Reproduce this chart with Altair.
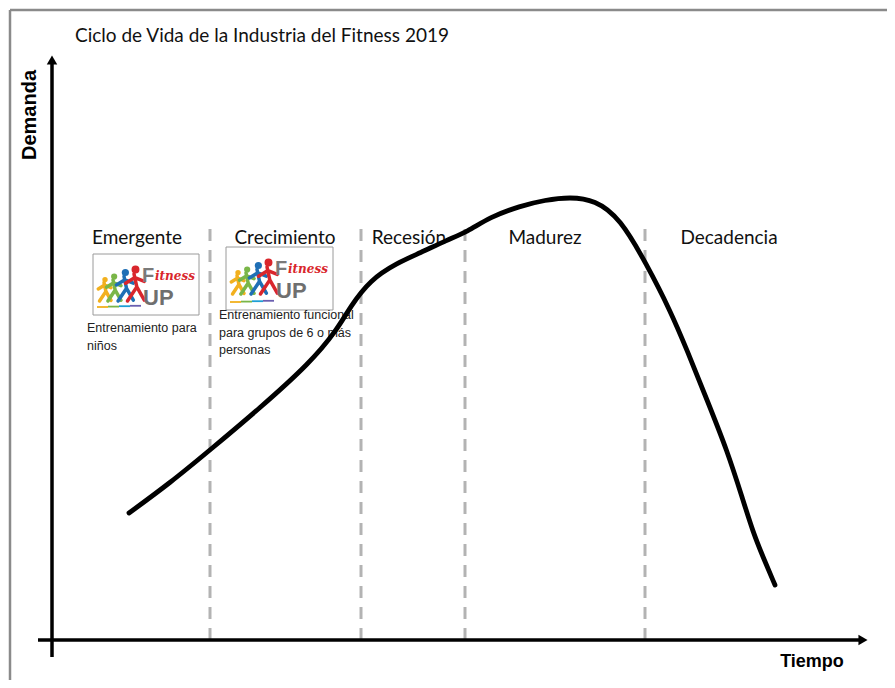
import altair as alt
import pandas as pd

# ---- data (time = horizontal units, demand = vertical units) ----
curve_t = [77, 118, 158, 208, 258, 285, 298, 318, 345, 368, 395, 415, 438, 468, 493, 518, 543,
           568, 595, 618, 635, 655, 675, 691, 701, 711, 723]
curve_d = [127, 157, 190, 232, 277, 310, 333, 360, 377, 387, 400, 408, 423, 434, 440, 443, 440,
           422, 375, 330, 290, 240, 190, 140, 108, 83, 55]

stages = ["Emergente", "Crecimiento", "Recesión", "Madurez", "Decadencia"]
stage_t = [85, 233, 357, 493, 677]
stage_d = [402, 402, 402, 402, 402]

divider_t = [158, 309, 413, 593]
divider_top = 412

title_text = "Ciclo de Vida de la Industria del Fitness 2019"
x_title = "Tiempo"
y_title = "Demanda"

captions = ["Entrenamiento para", "niños",
            "Entrenamiento funcional", "para grupos de 6 o más", "personas"]
caption_t = [35, 35, 167, 167, 167]
caption_d = [312, 294, 325, 307, 290]

logo_t1 = [41, 174]
logo_t2 = [147, 281]
logo_d1 = [386, 393]
logo_d2 = [325, 330]

XS = alt.Scale(domain=[-44, 835], nice=False, zero=False)
YS = alt.Scale(domain=[-40, 632], nice=False, zero=False)


def X(f="t"):
    return alt.X(f"{f}:Q", scale=XS, axis=None)


def Y(f="d"):
    return alt.Y(f"{f}:Q", scale=YS, axis=None)


layers = []

# frame (top and left)
frame = pd.DataFrame({"t": [-42], "t2": [835], "d": [630]})
layers.append(alt.Chart(frame).mark_rule(color="#8a8a8a", strokeWidth=2.5).encode(
    x=X(), x2="t2:Q", y=Y()))
frame2 = pd.DataFrame({"t": [-42], "d": [630], "d2": [-40]})
layers.append(alt.Chart(frame2).mark_rule(color="#8a8a8a", strokeWidth=2.5).encode(
    x=X(), y=Y(), y2="d2:Q"))

# dashed dividers
div = pd.DataFrame({"t": divider_t, "d": [0] * len(divider_t), "d2": [divider_top] * len(divider_t)})
layers.append(alt.Chart(div).mark_rule(color="#b3b3b3", strokeWidth=3, strokeDash=[12, 9]).encode(
    x=X(), y=Y(), y2="d2:Q"))

# axes
xa = pd.DataFrame({"t": [-14], "t2": [812], "d": [0]})
layers.append(alt.Chart(xa).mark_rule(color="black", strokeWidth=3.5).encode(x=X(), x2="t2:Q", y=Y()))
ya = pd.DataFrame({"t": [0], "d": [-17], "d2": [578]})
layers.append(alt.Chart(ya).mark_rule(color="black", strokeWidth=3.5).encode(x=X(), y=Y(), y2="d2:Q"))
layers.append(alt.Chart(pd.DataFrame({"t": [811], "d": [0]})).mark_point(
    shape="triangle-right", filled=True, color="black", size=110, opacity=1).encode(x=X(), y=Y()))
layers.append(alt.Chart(pd.DataFrame({"t": [0], "d": [580]})).mark_point(
    shape="triangle-up", filled=True, color="black", size=110, opacity=1).encode(x=X(), y=Y()))

# axis titles
layers.append(alt.Chart(pd.DataFrame({"t": [760], "d": [-22], "s": [x_title]})).mark_text(
    font="Liberation Sans", fontWeight="bold", fontSize=18, color="black", align="center", baseline="middle"
).encode(x=X(), y=Y(), text="s:N"))
layers.append(alt.Chart(pd.DataFrame({"t": [-22], "d": [525], "s": [y_title]})).mark_text(
    font="Liberation Sans", fontWeight="bold", fontSize=20, color="black", align="center", baseline="middle",
    angle=270).encode(x=X(), y=Y(), text="s:N"))

# chart title
layers.append(alt.Chart(pd.DataFrame({"t": [23], "d": [598], "s": [title_text]})).mark_text(
    font="Lato", fontSize=19, color="#111", align="left", baseline="alphabetic"
).encode(x=X(), y=Y(), text="s:N"))

# stage labels
st = pd.DataFrame({"t": stage_t, "d": stage_d, "s": stages})
layers.append(alt.Chart(st).mark_text(
    font="Lato", fontSize=19, color="#111", align="center", baseline="middle"
).encode(x=X(), y=Y(), text="s:N"))

# logos: boxes
lg = pd.DataFrame({"t": logo_t1, "t2": logo_t2, "d": logo_d1, "d2": logo_d2})
layers.append(alt.Chart(lg).mark_rect(fill="white", stroke="#9a9a9a", strokeWidth=1).encode(
    x=X(), x2="t2:Q", y=Y(), y2="d2:Q"))

# logos: runners (stick figures), offsets relative to box left/top
runner_colors = ["#f2b01e", "#7ab648", "#1f6fb5", "#d9262c"]
runner_dx = [11, 20, 31, 41]
runner_size = [650, 850, 1150, 1400]
runner_path = ("M0,-0.45 L0.15,0.25 L-0.35,1 M0.15,0.25 L0.55,0.95 "
               "M0.05,-0.25 L-0.45,0.05 M0.05,-0.25 L0.55,-0.05")
rows = []
heads = []
for bi in range(2):
    feet = logo_d1[bi] - 47
    for k in range(4):
        sq = runner_size[k] ** 0.5
        cy = feet + 0.5 * sq
        rows.append({"t": logo_t1[bi] + runner_dx[k], "d": cy, "c": runner_colors[k], "sz": runner_size[k]})
        heads.append({"t": logo_t1[bi] + runner_dx[k] + sq * 0.04, "d": cy + 0.5 * sq * 0.68,
                      "c": runner_colors[k], "sz": runner_size[k] * 0.045})
rdf = pd.DataFrame(rows)
hdf = pd.DataFrame(heads)
layers.append(alt.Chart(rdf).mark_point(shape=runner_path, filled=False, strokeWidth=3.5, opacity=1,
                                        strokeCap="round").encode(
    x=X(), y=Y(), color=alt.Color("c:N", scale=None), size=alt.Size("sz:Q", scale=None)))
layers.append(alt.Chart(hdf).mark_point(shape="circle", filled=True, opacity=1).encode(
    x=X(), y=Y(), color=alt.Color("c:N", scale=None), size=alt.Size("sz:Q", scale=None)))
# swoosh
sw_colors = ["#f2b01e", "#7ab648", "#1f9fd5", "#6a5fb0"]
swr = []
for bi in range(2):
    for k, c in enumerate(sw_colors):
        swr.append({"t": logo_t1[bi] + 4 + k * 11, "t2": logo_t1[bi] + 15 + k * 11,
                    "d": logo_d2[bi] + 8 + k * 0.4, "c": c})
layers.append(alt.Chart(pd.DataFrame(swr)).mark_rule(strokeWidth=1.8).encode(
    x=X(), x2="t2:Q", y=Y(), color=alt.Color("c:N", scale=None)))

# logos: wordmark
fdf = pd.DataFrame({"t": [l + 49 for l in logo_t1], "d": [d1 - 28 for d1 in logo_d1], "s": ["F", "F"]})
layers.append(alt.Chart(fdf).mark_text(font="Liberation Sans", fontWeight="bold", fontSize=20,
                                       color="#7a7a7a", align="left", baseline="alphabetic").encode(
    x=X(), y=Y(), text="s:N"))
idf = pd.DataFrame({"t": [l + 62 for l in logo_t1], "d": [d1 - 26 for d1 in logo_d1], "s": ["itness", "itness"]})
layers.append(alt.Chart(idf).mark_text(font="DejaVu Serif", fontStyle="italic", fontWeight="bold", fontSize=12,
                                       color="#d9262c", align="left", baseline="alphabetic").encode(
    x=X(), y=Y(), text="s:N"))
udf = pd.DataFrame({"t": [l + 50 for l in logo_t1], "d": [d1 - 51 for d1 in logo_d1], "s": ["UP", "UP"]})
layers.append(alt.Chart(udf).mark_text(font="Liberation Sans", fontWeight="bold", fontSize=22,
                                       color="#6f6f6f", align="left", baseline="alphabetic").encode(
    x=X(), y=Y(), text="s:N"))

# captions
cp = pd.DataFrame({"t": caption_t, "d": caption_d, "s": captions})
layers.append(alt.Chart(cp).mark_text(font="Liberation Sans", fontSize=12.5, color="#222",
                                      align="left", baseline="middle").encode(
    x=X(), y=Y(), text="s:N"))

# life-cycle curve
cv = pd.DataFrame({"t": curve_t, "d": curve_d, "o": list(range(len(curve_t)))})
layers.append(alt.Chart(cv).mark_line(color="black", strokeWidth=4.8, interpolate="basis",
                                      strokeCap="round").encode(
    x=X(), y=Y(), order="o:Q"))

chart = alt.layer(*layers).properties(
    width=879, height=672,
    autosize=alt.AutoSizeParams(type="none"),
    padding=0,
    background="white",
).configure_view(stroke=None)

chart.save("out.html", embed_options={"renderer": "svg", "actions": False})
